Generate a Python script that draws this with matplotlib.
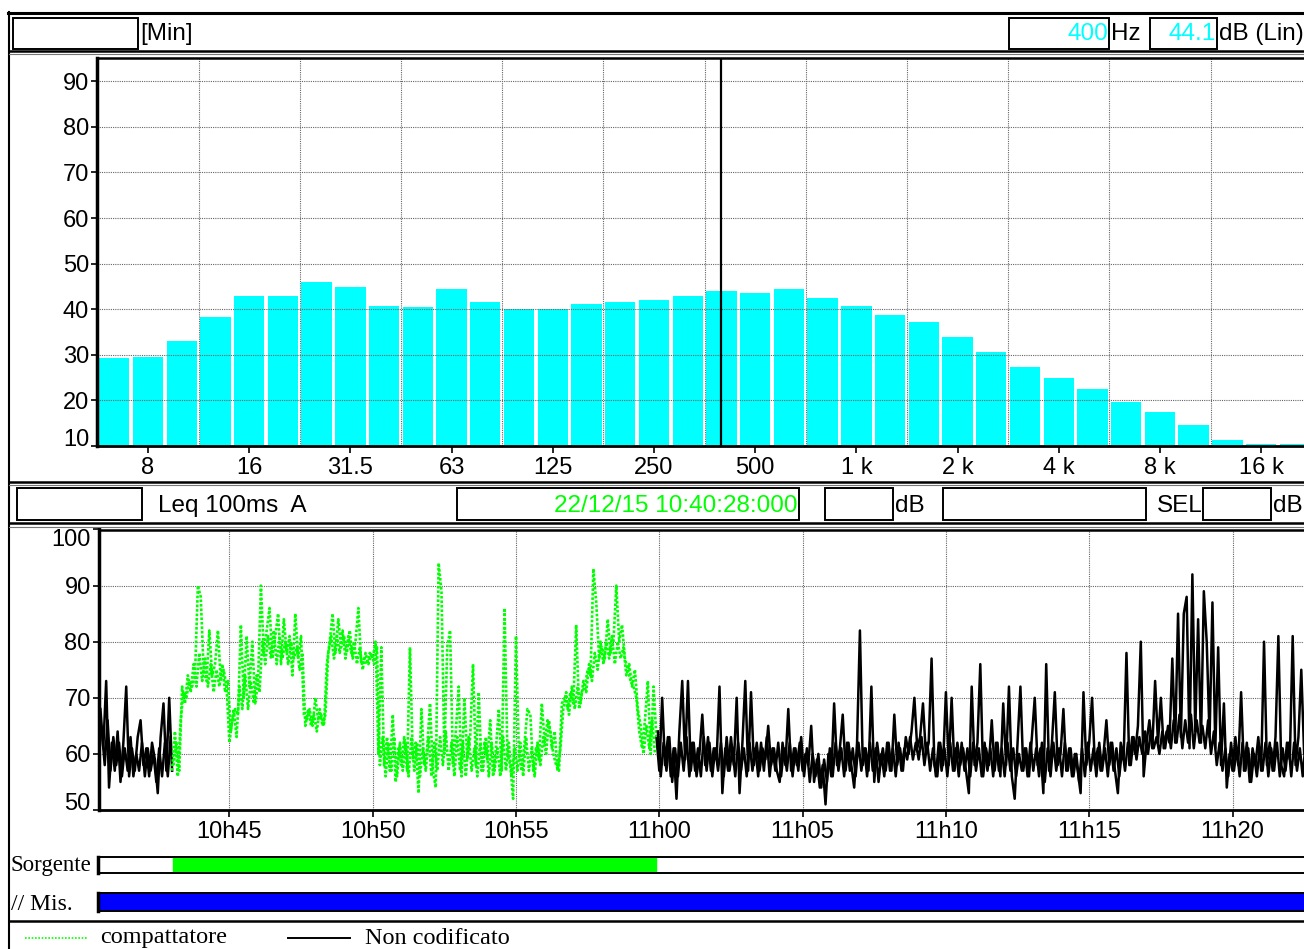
import matplotlib.pyplot as plt
import numpy as np
from matplotlib.lines import Line2D
from matplotlib.patches import Rectangle

plt.rcParams['font.family'] = ['Liberation Sans', 'DejaVu Sans']

W, H = 1304, 949

# 1/3 octave spectrum, dB (Lin)
bands = ['6.3', '8', '10', '12.5', '16', '20', '25', '31.5', '40', '50', '63', '80',
         '100', '125', '160', '200', '250', '315', '400', '500', '630', '800', '1 k', '1.25 k',
         '1.6 k', '2 k', '2.5 k', '3.15 k', '4 k', '5 k', '6.3 k', '8 k', '10 k', '12.5 k',
         '16 k', '20 k']
levels = [29.2, 29.6, 33.1, 38.3, 42.9, 42.9, 45.9, 44.9, 40.7, 40.5, 44.4, 41.6,
          40.0, 40.0, 41.2, 41.6, 42.0, 42.9, 44.1, 43.6, 44.4, 42.5, 40.7, 38.8,
          37.2, 34.0, 30.7, 27.3, 24.9, 22.5, 19.7, 17.4, 14.6, 11.3, 10.4, 10.4]
tick_bands = ['8', '16', '31.5', '63', '125', '250', '500', '1 k', '2 k', '4 k', '8 k', '16 k']
cursor_band = '400'

# Leq 100ms A, minutes after 10:00, one value every 6 s from 10:40:30
t_start = 40.5
t_step = 0.1
leq = [
    68, 61, 73, 54, 62,
    57, 64, 55, 62, 72, 56, 61, 57, 63, 66,
    58, 61, 56, 62, 59, 53, 63, 69, 57, 70,
    57, 64, 56, 66, 71, 70, 73, 72, 74, 90,
    88, 75, 73, 82, 74, 76, 82, 73, 75, 72,
    62, 66, 68, 67, 83, 70, 81, 72, 80, 69,
    73, 90, 78, 82, 86, 77, 81, 85, 76, 84,
    78, 81, 74, 85, 77, 81, 67, 66, 68, 65,
    70, 66, 67, 65, 76, 80, 85, 78, 84, 79,
    81, 78, 82, 77, 80, 86, 76, 77, 76, 78,
    77, 80, 60, 79, 58, 63, 57, 67, 55, 61,
    58, 63, 57, 79, 59, 62, 53, 68, 58, 61,
    69, 57, 54, 94, 89, 60, 79, 82, 58, 64,
    72, 56, 70, 59, 63, 76, 58, 71, 57, 62,
    59, 66, 56, 61, 68, 57, 86, 60, 58, 52,
    81, 60, 57, 62, 68, 67, 57, 61, 59, 69,
    62, 66, 64, 60, 58, 57, 69, 70, 68, 71,
    69, 83, 68, 71, 72, 75, 74, 93, 87, 77,
    79, 77, 84, 78, 80, 90, 80, 83, 77, 75,
    73, 72, 70, 64, 61, 66, 73, 60, 72, 63,
    57, 70, 58, 63, 56, 61, 52, 64, 73, 59,
    73, 57, 62, 56, 60, 67, 58, 63, 57, 61,
    59, 72, 53, 61, 57, 63, 58, 70, 53, 62,
    73, 57, 71, 58, 62, 57, 61, 59, 65, 58,
    61, 57, 55, 62, 58, 68, 57, 61, 58, 62,
    57, 60, 58, 65, 55, 59, 54, 58, 51, 60,
    56, 69, 58, 61, 67, 57, 62, 58, 54, 62,
    82, 58, 61, 57, 72, 55, 62, 58, 61, 57,
    62, 57, 67, 58, 61, 57, 63, 60, 64, 70,
    61, 63, 69, 60, 62, 77, 58, 56, 62, 58,
    71, 58, 70, 57, 62, 58, 61, 57, 53, 72,
    58, 62, 76, 56, 61, 58, 66, 57, 62, 56,
    69, 58, 72, 56, 52, 62, 72, 57, 61, 56,
    63, 70, 58, 61, 53, 76, 57, 62, 71, 58,
    60, 68, 57, 61, 56, 60, 57, 53, 71, 58,
    62, 70, 58, 61, 57, 60, 66, 58, 62, 57,
    53, 62, 59, 78, 58, 63, 60, 65, 80, 56,
    62, 66, 61, 73, 62, 70, 61, 64, 62, 77,
    62, 85, 63, 85, 88, 61, 92, 64, 84, 62,
    89, 80, 63, 87, 61, 79, 58, 69, 54, 60,
    57, 63, 58, 71, 57, 62, 55, 61, 58, 63,
    57, 80, 58, 62, 57, 63, 81, 58, 56, 62,
    59, 81, 58, 63, 75, 60, 62, 58,
]
# in-between samples, 3 s later (the dense core of the trace)
leq_mid = [
    64, 58, 66, 57, 63,
    58, 62, 56, 61, 57, 63, 56, 60, 57, 62,
    56, 61, 57, 60, 55, 61, 56, 62, 56, 63,
    58, 62, 57, 72, 69, 74, 71, 76, 72, 78,
    73, 77, 72, 76, 71, 75, 72, 76, 71, 73,
    64, 68, 63, 72, 68, 74, 68, 73, 69, 74,
    71, 80, 76, 81, 77, 82, 76, 81, 77, 80,
    76, 80, 77, 79, 75, 78, 65, 68, 65, 67,
    64, 68, 65, 67, 78, 81, 77, 81, 78, 82,
    77, 81, 78, 80, 76, 79, 75, 78, 76, 78,
    76, 79, 58, 63, 56, 62, 57, 63, 56, 62,
    57, 62, 56, 63, 57, 62, 56, 61, 57, 63,
    56, 62, 57, 63, 58, 64, 57, 62, 56, 63,
    57, 62, 56, 63, 57, 61, 56, 62, 57, 63,
    56, 62, 57, 61, 56, 63, 57, 62, 56, 61,
    57, 62, 56, 63, 57, 61, 56, 62, 58, 63,
    60, 66, 61, 64, 57, 61, 68, 71, 67, 72,
    68, 72, 69, 73, 71, 76, 73, 78, 75, 80,
    76, 80, 77, 81, 76, 80, 77, 79, 74, 76,
    72, 75, 68, 65, 60, 65, 61, 66, 60, 64,
    56, 62, 57, 63, 55, 61, 56, 62, 57, 63,
    56, 62, 57, 61, 56, 63, 57, 62, 56, 61,
    57, 62, 56, 63, 57, 61, 56, 62, 57, 61,
    56, 62, 57, 61, 56, 62, 57, 63, 56, 61,
    57, 62, 56, 61, 57, 62, 56, 61, 57, 63,
    56, 61, 55, 60, 56, 60, 54, 59, 55, 61,
    56, 62, 57, 61, 56, 62, 57, 61, 56, 62,
    57, 61, 56, 62, 57, 61, 55, 60, 56, 62,
    57, 61, 56, 62, 57, 61, 59, 63, 59, 62,
    59, 63, 58, 62, 57, 61, 56, 62, 57, 61,
    56, 62, 57, 61, 56, 62, 57, 61, 56, 62,
    57, 61, 56, 62, 57, 61, 56, 62, 57, 61,
    56, 62, 57, 61, 56, 60, 57, 61, 56, 62,
    57, 61, 56, 62, 55, 61, 56, 62, 57, 61,
    56, 62, 57, 61, 56, 60, 55, 61, 56, 62,
    57, 61, 56, 62, 57, 61, 56, 62, 57, 61,
    56, 61, 57, 62, 58, 63, 59, 63, 60, 64,
    60, 64, 61, 63, 60, 64, 61, 65, 61, 66,
    62, 67, 61, 66, 62, 67, 61, 66, 62, 65,
    61, 66, 60, 64, 58, 62, 57, 61, 56, 62,
    57, 61, 56, 62, 57, 61, 55, 60, 56, 61,
    57, 62, 56, 61, 57, 62, 56, 61, 57, 62,
    56, 62, 57, 61, 56, 62, 57, 61,
]
src_start, src_end = 43.05, 59.92   # compattatore
time_ticks = [45, 50, 55, 60, 65, 70, 75, 80]
time_labels = ['10h45', '10h50', '10h55', '11h00', '11h05', '11h10', '11h15', '11h20']

GREEN = '#00ff00'
CYAN = '#00ffff'
SERIF = ['Liberation Serif']


def fx(x):
    return x / W


def fy(y):
    return 1 - y / H


fig = plt.figure(figsize=(W / 100, H / 100), dpi=100)


def hline(y, x0, x1, lw=1.5, color='black'):
    fig.add_artist(Line2D([fx(x0), fx(x1)], [fy(y), fy(y)], lw=lw, color=color))


def vline(x, y0, y1, lw=1.5, color='black'):
    fig.add_artist(Line2D([fx(x), fx(x)], [fy(y0), fy(y1)], lw=lw, color=color))


def box(x0, y0, x1, y1, lw=1.4):
    fig.add_artist(Rectangle((fx(x0), fy(y1)), fx(x1) - fx(x0), fy(y0) - fy(y1),
                             fill=False, lw=lw, ec='black', transform=fig.transFigure))


def txt(x, y, s, ha='left', color='black', size=17.5, **kw):
    fig.text(fx(x), fy(y), s, ha=ha, va='center', color=color, fontsize=size, **kw)


# frame and headers
hline(13, 8, 1304, lw=2.2)
vline(9, 12, 949, lw=1.5)
hline(50.5, 9, 1304, lw=1.8)
hline(53.5, 9, 1304, lw=0.8, color='#777777')
box(13, 18, 138, 49)
txt(140, 34, '[Min]')
box(1009, 18, 1109, 49)
txt(1108, 34, cursor_band, ha='right', color=CYAN)
txt(1111, 34, 'Hz')
box(1150, 18, 1217, 49)
txt(1216, 34, '%.1f' % levels[bands.index(cursor_band)], ha='right', color=CYAN)
txt(1219, 34, 'dB (Lin)')

hline(482, 9, 1304, lw=1.8)
hline(485, 9, 1304, lw=0.8, color='#777777')
box(17, 488, 142, 520)
txt(158, 506, 'Leq 100ms  A')
box(457, 488, 799, 520)
txt(797, 506, '22/12/15 10:40:28:000', ha='right', color=GREEN)
box(825, 488, 893, 520)
txt(895, 506, 'dB')
box(943, 488, 1146, 520)
txt(1157, 506, 'SEL')
box(1203, 488, 1271, 520)
txt(1273, 506, 'dB')
hline(523, 9, 1304, lw=1.8)
hline(527, 9, 1304, lw=0.8, color='#777777')

grid_kw = dict(color='#666666', lw=0.8, linestyle=(0, (1, 1)))

# spectrum
ax1 = fig.add_axes([fx(97.4), fy(446), fx(1311.7) - fx(97.4), fy(57.5) - fy(446)])
idx = np.arange(len(bands))
ax1.bar(idx, np.array(levels) - 10, bottom=10, width=0.9, color=CYAN, zorder=1)
ax1.set_xlim(-0.5, len(bands) - 0.5)
ax1.set_ylim(10, 95.2)
ax1.set_xticks([bands.index(b) for b in tick_bands])
ax1.set_xticklabels(tick_bands)
ax1.set_yticks(range(10, 91, 10))
for v in range(20, 91, 10):
    ax1.axhline(v, zorder=2, **grid_kw)
for k in range(2, len(bands) - 3, 3):
    ax1.axvline(k + 0.5, zorder=2, **grid_kw)
ax1.axvline(bands.index(cursor_band), color='black', lw=1.6, zorder=3)
ax1.tick_params(direction='out', length=5, width=1.2, labelsize=17, pad=3)
ax1.tick_params(axis='y', pad=2, length=4)
ax1.get_yticklabels()[0].set_va('baseline')
ax1.spines['left'].set_linewidth(2.5)
ax1.spines['bottom'].set_linewidth(2)
ax1.spines['top'].set_linewidth(1.8)

# time history
ax2 = fig.add_axes([fx(99), fy(810), fx(1311) - fx(99), fy(529.5) - fy(810)])
t = t_start + t_step * np.arange(len(leq))
for tt, vals in ((t, leq), (t + t_step / 2, leq_mid)):
    tr = np.round(tt, 2)
    v = np.array(vals)
    m1 = tr <= 43.0
    mg = (tr >= 43.0) & (tr <= 59.9)
    m2 = tr >= 59.9
    ax2.plot(tt[m1], v[m1], color='black', lw=1.8, zorder=3)
    ax2.plot(tt[m2], v[m2], color='black', lw=1.8, zorder=3)
    ax2.plot(tt[mg], v[mg], color=GREEN, lw=1.9, linestyle=(0, (1, 0.7)), zorder=3)
xl = (40.45, 40.45 + 1212 / 28.66)
ax2.set_xlim(xl)
ax2.set_ylim(50, 100)
ax2.set_xticks(time_ticks)
ax2.set_xticklabels(time_labels)
ax2.set_yticks(range(50, 101, 10))
ax2.grid(True, zorder=1, **grid_kw)
ax2.tick_params(direction='out', length=5, width=1.2, labelsize=17, pad=3)
ax2.tick_params(axis='y', pad=2, length=4)
ylabs = ax2.get_yticklabels()
ylabs[0].set_va('baseline')
ylabs[-1].set_va('top')
ax2.spines['left'].set_linewidth(2.5)
ax2.spines['bottom'].set_linewidth(2)
ax2.spines['top'].set_linewidth(1.8)

# source and measure bars
ax3 = fig.add_axes([fx(98), fy(873), fx(1311) - fx(98), fy(857) - fy(873)])
ax3.set_xlim(xl)
ax3.set_ylim(0, 1)
ax3.axvspan(src_start, src_end, color=GREEN)
ax3.set_xticks([])
ax3.set_yticks([])
for s in ax3.spines.values():
    s.set_linewidth(1.4)
ax3.spines['left'].set_linewidth(2.5)
txt(10, 866, 'Sorgente', family=SERIF, size=16.5)

ax4 = fig.add_axes([fx(98), fy(911), fx(1311) - fx(98), fy(893) - fy(911)], facecolor='#0000ff')
ax4.set_xlim(xl)
ax4.set_xticks([])
ax4.set_yticks([])
for s in ax4.spines.values():
    s.set_linewidth(1.4)
ax4.spines['left'].set_linewidth(2.5)
txt(11, 904, '// Mis.', family=SERIF, size=17)

# legend
hline(920.5, 9, 1304, lw=1.8)
fig.add_artist(Line2D([fx(25), fx(88)], [fy(938), fy(938)], lw=1.2, color=GREEN,
                      linestyle=(0, (1, 1))))
txt(100, 938, 'compattatore', family=SERIF, size=17.5)
hline(938, 288, 350, lw=1.4)
txt(365, 938, 'Non codificato', family=SERIF, size=17.5)

fig.savefig('out.png', dpi=100)
